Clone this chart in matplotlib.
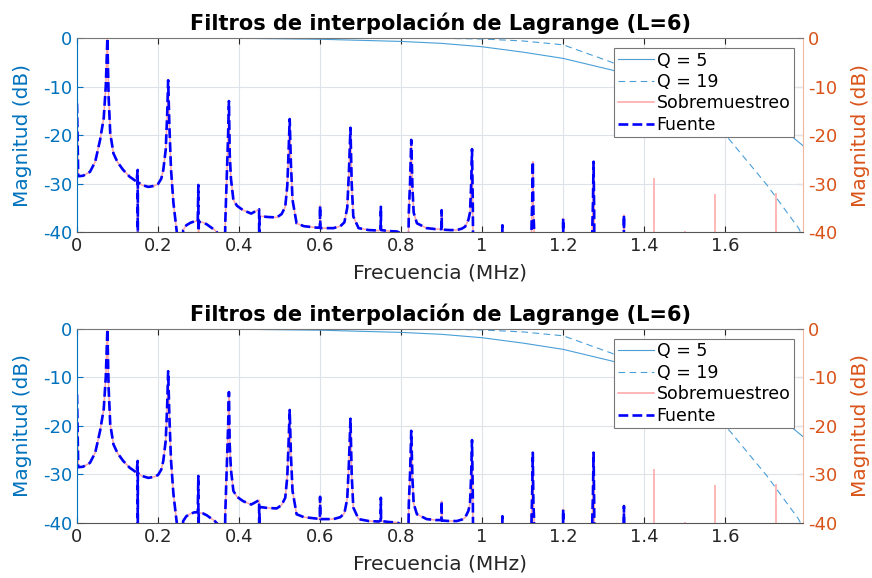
import matplotlib
matplotlib.use("Agg")
import matplotlib.pyplot as plt
from matplotlib.ticker import FuncFormatter

plt.rcParams["font.family"] = "DejaVu Sans"
plt.rcParams["axes.unicode_minus"] = False

AZUL = "#0072BD"
NARANJA = "#D95319"
GRIS = "#262626"
FILTRO = "#4a9fd8"
ROSA = "#ffa3a3"
BAJO = -60  # por debajo del suelo del eje

# espectro de la fuente (MHz, dB)
fuente_f = [0.000, 0.003, 0.015, 0.032, 0.045, 0.057, 0.066, 0.071, 0.075, 0.078,
            0.082, 0.090, 0.100, 0.114, 0.130, 0.147, 0.1498, 0.150, 0.1502, 0.160,
            0.176, 0.190, 0.200, 0.208, 0.213, 0.219, 0.2225, 0.225, 0.228, 0.232,
            0.238, 0.247, 0.250, 0.258, 0.262, 0.270, 0.280, 0.290, 0.298, 0.2995,
            0.300, 0.3005, 0.310, 0.320, 0.330, 0.340, 0.348, 0.352, 0.363, 0.366,
            0.370, 0.373, 0.375, 0.377, 0.380, 0.386, 0.395, 0.410, 0.430, 0.4495,
            0.450, 0.4505, 0.470, 0.493, 0.505, 0.514, 0.519, 0.522, 0.525, 0.528,
            0.532, 0.542, 0.560, 0.592, 0.5995, 0.600, 0.6005, 0.633, 0.650, 0.660,
            0.667, 0.671, 0.675, 0.678, 0.682, 0.695, 0.720, 0.745, 0.7495, 0.750,
            0.7505, 0.770, 0.790, 0.805, 0.815, 0.819, 0.822, 0.825, 0.828, 0.831,
            0.839, 0.863, 0.885, 0.8995, 0.900, 0.9005, 0.920, 0.9375, 0.950, 0.958,
            0.966, 0.970, 0.973, 0.975, 0.977, 0.979, 1.049, 1.050, 1.051, 1.120,
            1.122, 1.1235, 1.125, 1.1265, 1.128, 1.131, 1.199, 1.200, 1.201, 1.270,
            1.272, 1.2735, 1.275, 1.2765, 1.278, 1.349, 1.350, 1.351, 1.792]
fuente_db = [-13.5, -28.5, -28.4, -27.6, -25.5, -21.0, -16.5, -10.0, 0.0, -12.0,
             -19.6, -23.8, -25.6, -27.2, -28.6, -29.6, -27.2, BAJO, -29.7, -30.3,
             -30.7, -30.5, -30.1, -29.0, -27.2, -23.0, -16.0, -8.7, -18.0, -27.0,
             -34.0, -40.5, BAJO, BAJO, -39.6, -38.6, -38.1, -37.8, -37.8, -30.3,
             BAJO, -37.9, -38.0, -38.4, -39.0, -39.6, -40.3, BAJO, BAJO, -38.0,
             -28.0, -20.0, -13.0, -24.0, -29.0, -33.4, -34.6, -35.5, -36.2, -35.3,
             BAJO, -36.7, -36.9, -37.0, -36.3, -34.8, -30.5, -24.0, -16.7, -26.0,
             -33.4, -38.2, -38.8, -39.1, -39.1, -34.6, -39.2, -39.2, -38.8, -38.0,
             -35.0, -28.0, -18.5, -30.0, -36.8, -39.2, -39.6, -39.7, -39.5, -34.8,
             -39.6, -39.8, -39.9, -40.5, BAJO, -36.0, -30.0, -21.0, -31.0, -36.0,
             -38.2, -39.2, -39.4, -39.4, -35.5, -39.5, -39.6, -39.6, -39.3, -38.9,
             -37.5, -36.0, -30.0, -22.9, -35.0, BAJO, BAJO, -38.6, BAJO, BAJO,
             -38.5, -34.0, -25.5, -36.0, -38.8, BAJO, BAJO, -37.2, BAJO, BAJO,
             -38.8, -34.0, -25.5, -36.0, BAJO, BAJO, -36.5, BAJO, BAJO]

# imágenes del sobremuestreo por encima de la banda de la fuente
imagen_f = [1.425, 1.500, 1.575, 1.725]
imagen_db = [-28.9, -39.8, -32.2, -32.0]

# respuesta de los filtros de Lagrange
q5_f = [0.0, 0.4, 0.6, 0.8, 0.9, 1.0, 1.1, 1.2, 1.32, 1.45, 1.6, 1.7, 1.76, 1.792]
q5_db = [0.0, -0.05, -0.25, -0.7, -1.1, -1.8, -2.9, -4.2, -6.6, -9.8, -14.5, -18.0, -20.0, -22.2]
q19_f = [0.0, 0.8, 0.9, 1.0, 1.1, 1.2, 1.32, 1.4, 1.5, 1.604, 1.703, 1.781, 1.792]
q19_db = [0.0, -0.02, -0.06, -0.2, -0.6, -1.4, -5.0, -8.5, -13.5, -20.3, -30.3, -39.2, -41.0]

xticks = [0, 0.2, 0.4, 0.6, 0.8, 1.0, 1.2, 1.4, 1.6]
yticks = [-40, -30, -20, -10, 0]
titulo = "Filtros de interpolación de Lagrange (L=6)"


def panel(ax):
    ax2 = ax.twinx()
    ax.set_zorder(ax2.get_zorder() + 1)
    ax.patch.set_visible(False)

    l_rosa, = ax.plot(fuente_f, fuente_db, color=ROSA, lw=1.1, label="Sobremuestreo")
    ax.vlines(imagen_f, BAJO, imagen_db, color=ROSA, lw=1.1)
    l_q5, = ax.plot(q5_f, q5_db, color=FILTRO, lw=0.8, label="Q = 5")
    l_q19, = ax.plot(q19_f, q19_db, color=FILTRO, lw=0.8, ls=(0, (6, 4)), label="Q = 19")
    l_fuente, = ax.plot(fuente_f, fuente_db, color="blue", lw=1.9, ls="--", label="Fuente")

    for a in (ax, ax2):
        a.set_xlim(0, 1.792)
        a.set_ylim(-40, 0)
        a.set_yticks(yticks)
    ax.set_xticks(xticks)
    ax.xaxis.set_major_formatter(FuncFormatter(lambda v, p: "%g" % v))
    ax.grid(True, color="#dde3e9", lw=0.8)
    ax.tick_params(axis="x", direction="in", top=True, colors=GRIS, labelsize=13,
                   length=4, width=0.8)
    ax.tick_params(axis="y", direction="in", colors=AZUL, labelsize=13,
                   length=4, width=0.8)
    ax2.tick_params(axis="y", direction="in", colors=NARANJA, labelsize=13,
                    length=4, width=0.8)
    ax.spines["left"].set_color(AZUL)
    ax.spines["bottom"].set_color("#555555")
    ax.spines["top"].set_color("#777777")
    ax.spines["right"].set_visible(False)
    ax2.spines["right"].set_color("#f0b8a0")
    for s in ("left", "top", "bottom"):
        ax2.spines[s].set_visible(False)

    ax.set_xlabel("Frecuencia (MHz)", fontsize=14.5, color=GRIS, labelpad=6)
    ax.set_ylabel("Magnitud (dB)", fontsize=14.5, color=AZUL, labelpad=8)
    ax2.set_ylabel("Magnitud (dB)", fontsize=14.5, color=NARANJA, labelpad=10)
    ax.set_title(titulo, fontsize=15, fontweight="bold", pad=6)

    leg = ax.legend(handles=[l_q5, l_q19, l_rosa, l_fuente], loc="upper right",
                    bbox_to_anchor=(1 - 9 / 726, 1 - 10 / 194), borderaxespad=0,
                    fontsize=12.5, frameon=True, fancybox=False, framealpha=1,
                    edgecolor="#777777", handlelength=2.1, handletextpad=0.15,
                    labelspacing=0.2, borderpad=0.2)
    leg.get_frame().set_linewidth(0.8)


fig = plt.figure(figsize=(8.72, 5.78), dpi=100)
ax_sup = fig.add_axes([0.0883, 0.5986, 0.8326, 0.3356])
ax_inf = fig.add_axes([0.0883, 0.0952, 0.8326, 0.3356])
panel(ax_sup)
panel(ax_inf)

fig.savefig("out.png", dpi=100)
